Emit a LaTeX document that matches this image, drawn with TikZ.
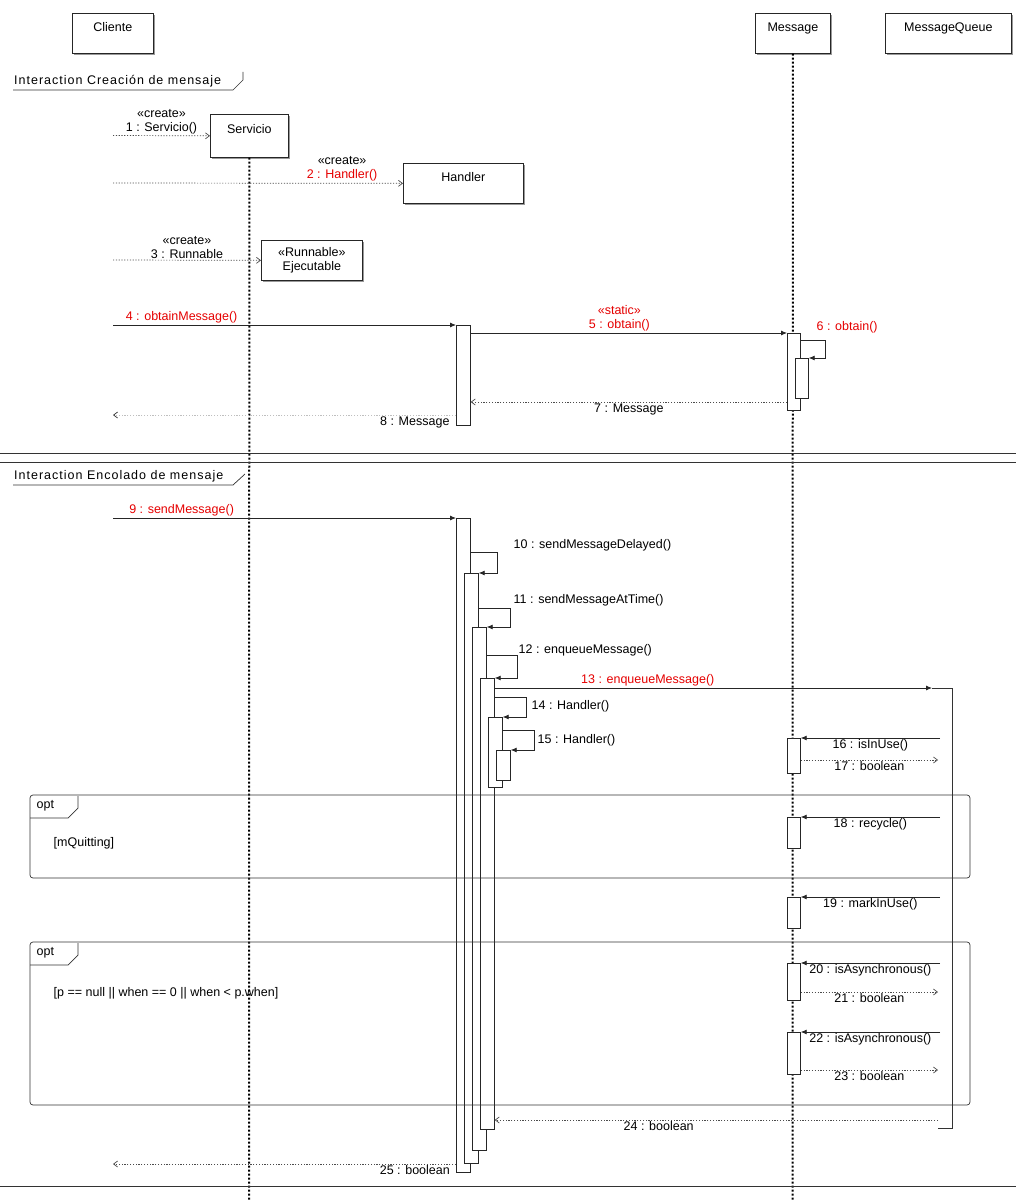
\documentclass[tikz,border=0pt]{standalone}
\usepackage{fontspec}
\setmainfont{Liberation Sans}
\usetikzlibrary{arrows.meta,shadows}

\begin{document}
\begin{tikzpicture}[x=1pt,y=-1pt,>=Latex,font=\fontsize{12.5}{14}\selectfont]

% --- Stijlen ---
\tikzset{
    boxbase/.style={draw=black!85, line width=0.7pt, fill=white, inner sep=0pt, anchor=north west,
        drop shadow={shadow xshift=1.3pt, shadow yshift=-1.3pt, fill=black!40, opacity=1}},
    headbox/.style={boxbase, minimum height=40pt, text height=8pt, text depth=12pt},
    twoline/.style={boxbase, minimum height=40pt, align=center},
    lifeline/.style={line width=2pt, dash pattern=on 2pt off 2pt},
    act/.style={draw=black!85, fill=white, line width=0.7pt, minimum width=14pt, inner sep=0pt, anchor=north west},
    msg/.style={-{Latex[length=6pt,width=5pt]}, line width=0.8pt, draw=black!85},
    ret/.style={-{Straight Barb[length=4pt,width=6pt]}, line width=0.7pt, draw=black!70,
        dash pattern=on 1.2pt off 1.6pt},
    lbl/.style={inner sep=1.5pt},
    redlbl/.style={lbl, text=red!90!black},
    framelbl/.style={anchor=south west, inner sep=0pt, font=\fontsize{12.5}{14}\selectfont\addfontfeature{LetterSpace=8}},
    frameline/.style={line width=0.7pt, draw=black!80},
    optbox/.style={line width=0.7pt, draw=black!80, rounded corners=3pt}
}

\useasboundingbox (0,0) rectangle (1016,1201);

% --- Koppen van de levenslijnen ---
\node[headbox, minimum width=81pt] (cliente) at (72,13) {Cliente};
\node[headbox, minimum width=75pt] (message) at (755,13) {Message};
\node[headbox, minimum width=126pt] (queue) at (885,13) {MessageQueue};

% --- Interaction 1 ---
\node[framelbl] (frameA) at (14,87) {Interaction Creación de mensaje};
\draw[frameline] (13,90) -- (233,90) -- (243,80) -- (243,72);

\node[headbox, minimum width=78pt, minimum height=43pt] (servicio) at (210,114) {Servicio};
\node[headbox, minimum width=120pt] (handler) at (403,163) {Handler};
\node[twoline, minimum width=101pt] (ejecutable) at (261,240) {«Runnable»\\Ejecutable};

% Levenslijnen
\coordinate (servicioEnd) at (249,1201);
\coordinate (messageEnd) at (792.5,1201);
\draw[lifeline] (servicio.south) -- (servicioEnd);
\draw[lifeline] (message.south) -- (messageEnd);

% create-berichten
\coordinate (c1) at (113,135.5);
\coordinate (c2) at (113,183);
\coordinate (c3) at (113,260);
\draw[ret] (c1) -- (servicio.west) node[lbl, above, pos=0.5, align=center] (l1) {«create»\\1 : Servicio()};
\draw[ret] (c2) -- (handler.west) node[lbl, above, pos=0.79, align=center] (l2) {«create»\\\textcolor{red!90!black}{2 : Handler()}};
\draw[ret] (c3) -- (ejecutable.west) node[lbl, above, pos=0.5, align=center] (l3) {«create»\\3 : Runnable};

% Activaties
\node[act, minimum height=100pt] (actH1) at (456,325) {};
\node[act, minimum width=13pt, minimum height=77pt] (actM1) at (787,333) {};
\node[act, minimum width=13pt, minimum height=40pt] (actM2) at (795,358) {};

\coordinate (c4) at (113,325);
\coordinate (c8) at (113,415);
\draw[msg] (c4) -- (actH1.north west) node[redlbl, above, pos=0.2] (l4) {4 : obtainMessage()};
\draw[msg] (actH1.east |- 0,333) -- (actM1.north west)
    node[redlbl, above, pos=0.47, align=center] (l5) {«static»\\5 : obtain()};
\draw[msg] (actM1.east |- 0,340) -- ++(25,0) |- (actM2.north east);
\node[redlbl, anchor=west] (l6) at (815,327) {6 : obtain()};
\draw[ret] (actM1.west |- 0,402) -- (actH1.east |- 0,402) node[lbl, below, pos=0.5] (l7) {7 : Message};
\draw[ret, draw=black!25, -{Straight Barb[length=4pt,width=6pt,color=black!80]}] (actH1.west |- 0,415) -- (c8)
    node[lbl, below, pos=0.12, text=black] (l8) {8 : Message};

% Scheiding (dubbele lijn)
\draw[frameline] (0,453) -- (1016,453);
\draw[frameline] (0,462) -- (1016,462);

% --- Interaction 2 ---
\node[framelbl] (frameB) at (14,482) {Interaction Encolado de mensaje};
\draw[frameline] (13,485) -- (233,485) -- (245,474);

% Activaties van Handler (genest)
\node[act, minimum height=654pt] (actA) at (456,518) {};
\node[act, minimum height=590pt] (actB) at (464,573) {};
\node[act, minimum height=523pt] (actC) at (472,627) {};
\node[act, minimum height=451pt] (actD) at (480,678) {};
\node[act, minimum height=70pt] (actE) at (488,717) {};
\node[act, minimum height=30pt] (actF) at (496,750) {};

% Activaties van Message
\node[act, minimum width=13pt, minimum height=35pt] (actG) at (787,738) {};
\node[act, minimum width=13pt, minimum height=31pt] (actR) at (787,817) {};
\node[act, minimum width=13pt, minimum height=31pt] (actK) at (787,897) {};
\node[act, minimum width=13pt, minimum height=37pt] (actL) at (787,963) {};
\node[act, minimum width=13pt, minimum height=42pt] (actN) at (787,1032) {};

% Activatie van MessageQueue
\coordinate (q13) at (932,688);
\coordinate (qTop) at (952,688);
\coordinate (qBot) at (952,1128);
\draw[frameline] (q13) -- (qTop) -- (qBot) -- ++(-14,0);

% Berichten
\coordinate (c9) at (113,518);
\draw[msg] (c9) -- (actA.north west) node[redlbl, above, pos=0.2] (l9) {9 : sendMessage()};

\draw[msg] (actA.east |- 0,552) -- ++(27,0) |- (actB.north east);
\node[lbl, anchor=west] (l10) at (512,545) {10 : sendMessageDelayed()};
\draw[msg] (actB.east |- 0,608) -- ++(32,0) |- (actC.north east);
\node[lbl, anchor=west] (l11) at (512,600) {11 : sendMessageAtTime()};
\draw[msg] (actC.east |- 0,655) -- ++(31,0) |- (actD.north east);
\node[lbl, anchor=west] (l12) at (517,650) {12 : enqueueMessage()};

\draw[msg] (actD.east |- 0,688) -- (q13) node[redlbl, above, pos=0.35] (l13) {13 : enqueueMessage()};

\draw[msg] (actD.east |- 0,697) -- ++(32,0) |- (actE.north east);
\node[lbl, anchor=west] (l14) at (530,706) {14 : Handler()};
\draw[msg] (actE.east |- 0,730) -- ++(32,0) |- (actF.north east);
\node[lbl, anchor=west] (l15) at (536,740) {15 : Handler()};

\coordinate (q16) at (940,738);
\coordinate (q17) at (938,760);
\draw[msg] (q16) -- (actG.north east) node[lbl, below, pos=0.5] (l16) {16 : isInUse()};
\draw[ret] (actG.east |- 0,760) -- (q17) node[lbl, below, pos=0.5] (l17) {17 : boolean};

% opt 1
\draw[optbox] (30,795) rectangle (970,878);
\draw[frameline] (30,818) -- (68,818) -- (78,808) -- (78,796);
\node[lbl, anchor=west] (optA) at (35,806) {opt};
\node[lbl, anchor=west] (guardA) at (52,843) {[mQuitting]};

\coordinate (q18) at (940,817);
\draw[msg] (q18) -- (actR.north east) node[lbl, below, pos=0.5] (l18) {18 : recycle()};

\coordinate (q19) at (940,897);
\draw[msg] (q19) -- (actK.north east) node[lbl, below, pos=0.5] (l19) {19 : markInUse()};

% opt 2
\draw[optbox] (30,942) rectangle (970,1105);
\draw[frameline] (30,965) -- (68,965) -- (78,955) -- (78,943);
\node[lbl, anchor=west] (optB) at (35,953) {opt};
\node[lbl, anchor=west] (guardB) at (52,993) {[p == null || when == 0 || when < p.when]};

\coordinate (q20) at (940,963);
\coordinate (q21) at (938,992);
\draw[msg] (q20) -- (actL.north east) node[lbl, below, pos=0.5] (l20) {20 : isAsynchronous()};
\draw[ret] (actL.east |- 0,992) -- (q21) node[lbl, below, pos=0.5] (l21) {21 : boolean};

\coordinate (q22) at (940,1032);
\coordinate (q23) at (938,1070);
\draw[msg] (q22) -- (actN.north east) node[lbl, below, pos=0.5] (l22) {22 : isAsynchronous()};
\draw[ret] (actN.east |- 0,1070) -- (q23) node[lbl, below, pos=0.5] (l23) {23 : boolean};

% Terugkeer
\coordinate (q24) at (938,1120);
\coordinate (c25) at (113,1164);
\draw[ret] (q24) -- (actD.east |- 0,1120) node[lbl, below, pos=0.63] (l24) {24 : boolean};
\draw[ret] (actA.west |- 0,1164) -- (c25) node[lbl, below, pos=0.12] (l25) {25 : boolean};

\draw[frameline] (0,1186) -- (1016,1186);

\end{tikzpicture}
\end{document}
